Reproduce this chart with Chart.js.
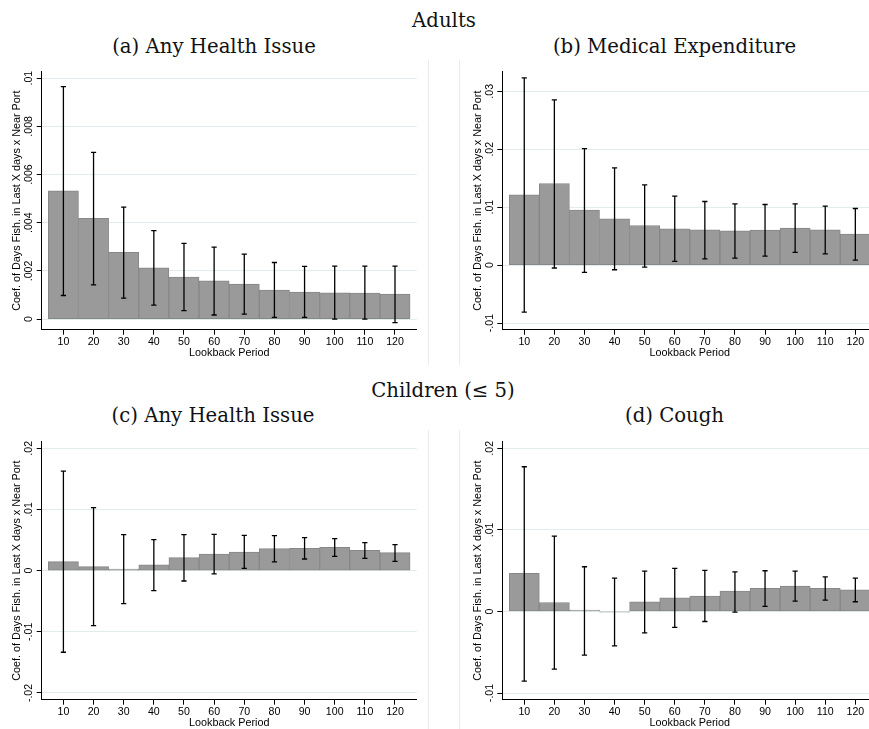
<!DOCTYPE html>
<html>
<head>
<meta charset="utf-8">
<script src="https://cdn.jsdelivr.net/npm/chart.js@4.4.1/dist/chart.umd.min.js"></script>
<style>
  html, body { margin: 0; padding: 0; background: #fff; overflow: hidden; width: 869px; height: 729px; }
  .ttl { position: absolute; font-family: "DejaVu Serif", serif; font-size: 19.7px; line-height: 1; color: #111; white-space: nowrap; transform: translateX(-50%); }
  .frame { position: absolute; width: 1px; background: #ececec; }
  canvas { position: absolute; }
</style>
</head>
<body>
<div class="ttl" style="left:444px; top:11px;">Adults</div>
<div class="ttl" style="left:214px; top:37px;">(a) Any Health Issue</div>
<div class="ttl" style="left:674.5px; top:37px;">(b) Medical Expenditure</div>
<div class="ttl" style="left:443px; top:380.5px;">Children (≤ 5)</div>
<div class="ttl" style="left:213px; top:406px;">(c) Any Health Issue</div>
<div class="ttl" style="left:674.5px; top:406px;">(d) Cough</div>

<div class="frame" style="left:428px; top:60px; height:305px;"></div>
<div class="frame" style="left:459px; top:60px; height:305px;"></div>
<div class="frame" style="left:428px; top:430px; height:299px;"></div>
<div class="frame" style="left:459px; top:430px; height:299px;"></div>

<canvas id="pa" width="434" height="300" style="left:0px; top:60px;"></canvas>
<canvas id="pb" width="450" height="300" style="left:440px; top:60px;"></canvas>
<canvas id="pc" width="434" height="300" style="left:0px; top:430px;"></canvas>
<canvas id="pd" width="450" height="300" style="left:440px; top:430px;"></canvas>

<script>
// Lookback windows (days)
const lookback = [10, 20, 30, 40, 50, 60, 70, 80, 90, 100, 110, 120];

// Adults: any health issue
const adultsAnyCoef = [0.00532, 0.00418, 0.00277, 0.00213, 0.00174, 0.00159, 0.00145, 0.00120, 0.00112, 0.00109, 0.00108, 0.00104];
const adultsAnyLo   = [0.00098, 0.00142, 0.00087, 0.00058, 0.00035, 0.00017, 0.00021, 0.00007, 0.00007, 0.00000, 0.00000, -0.00015];
const adultsAnyHi   = [0.00965, 0.00692, 0.00465, 0.00367, 0.00314, 0.00299, 0.00270, 0.00235, 0.00219, 0.00220, 0.00220, 0.00220];

// Adults: medical expenditure
const adultsMedCoef = [0.01213, 0.01408, 0.00948, 0.00799, 0.00684, 0.00626, 0.00609, 0.00592, 0.00603, 0.00638, 0.00609, 0.00534];
const adultsMedLo   = [-0.00810, -0.00050, -0.00126, -0.00080, -0.00034, 0.00063, 0.00109, 0.00120, 0.00155, 0.00218, 0.00195, 0.00086];
const adultsMedHi   = [0.03230, 0.02850, 0.02010, 0.01678, 0.01385, 0.01190, 0.01098, 0.01057, 0.01046, 0.01057, 0.01017, 0.00977];

// Children (<= 5): any health issue
const childAnyCoef = [0.00147, 0.00065, 0.00027, 0.00093, 0.00212, 0.00272, 0.00305, 0.00359, 0.00365, 0.00381, 0.00332, 0.00294];
const childAnyLo   = [-0.01334, -0.00898, -0.00539, -0.00327, -0.00169, -0.00054, 0.00038, 0.00142, 0.00190, 0.00234, 0.00201, 0.00152];
const childAnyHi   = [0.01628, 0.01029, 0.00588, 0.00506, 0.00588, 0.00593, 0.00577, 0.00572, 0.00539, 0.00523, 0.00457, 0.00425];

// Children (<= 5): cough
const childCoughCoef = [0.00466, 0.00110, 0.00016, -0.00008, 0.00119, 0.00168, 0.00188, 0.00249, 0.00282, 0.00311, 0.00282, 0.00266];
const childCoughLo   = [-0.00854, -0.00707, -0.00535, -0.00421, -0.00262, -0.00196, -0.00123, -0.00008, 0.00061, 0.00127, 0.00139, 0.00119];
const childCoughHi   = [0.01774, 0.00924, 0.00548, 0.00409, 0.00494, 0.00527, 0.00503, 0.00486, 0.00499, 0.00494, 0.00425, 0.00409];

// y-axis tick values per panel
const yTicksA = [0, 0.002, 0.004, 0.006, 0.008, 0.01];
const yTicksB = [-0.01, 0, 0.01, 0.02, 0.03];
const yTicksC = [-0.02, -0.01, 0, 0.01, 0.02];
const yTicksD = [-0.01, 0, 0.01, 0.02];

const yTitle = 'Coef. of Days Fish. in Last X days x Near Port';
const xTitle = 'Lookback Period';

// Stata-style number labels: no leading zero
function fmtTick(v) {
  if (Math.abs(v) < 1e-12) return '0';
  return String(+v.toFixed(4)).replace('0.', '.');
}

// Confidence-interval whiskers drawn through the chart's scales
const errorBars = {
  id: 'errorBars',
  afterDatasetsDraw(chart, args, opts) {
    const xs = chart.scales.x, ys = chart.scales.y, ctx = chart.ctx;
    ctx.save();
    ctx.strokeStyle = '#000';
    ctx.lineWidth = 1.3;
    opts.lo.forEach((lo, i) => {
      const x = xs.getPixelForValue(lookback[i]);
      const y1 = ys.getPixelForValue(lo);
      const y2 = ys.getPixelForValue(opts.hi[i]);
      const c = 2.6;
      ctx.beginPath();
      ctx.moveTo(x, y1); ctx.lineTo(x, y2);
      ctx.moveTo(x - c, y1); ctx.lineTo(x + c, y1);
      ctx.moveTo(x - c, y2); ctx.lineTo(x + c, y2);
      ctx.stroke();
    });
    ctx.restore();
  }
};

const tickFont = { family: '"Liberation Sans", Arial, sans-serif', size: 10.6 };
const titleFont = { family: '"Liberation Sans", Arial, sans-serif', size: 10.8 };

function panel(id, g, coef, lo, hi, yTicks) {
  const el = document.getElementById(id);
  return new Chart(el, {
    type: 'bar',
    data: {
      datasets: [{
        data: lookback.map((x, i) => ({ x: x, y: coef[i] })),
        backgroundColor: '#9a9a9a',
        borderColor: '#878787',
        borderWidth: 1,
        borderSkipped: false,
        barPercentage: 1,
        categoryPercentage: 1
      }]
    },
    options: {
      responsive: false,
      animation: false,
      devicePixelRatio: 1,
      layout: { padding: { left: 0, top: g.padTop, right: g.padRight, bottom: g.padBottom } },
      plugins: {
        legend: { display: false },
        tooltip: { enabled: false },
        errorBars: { lo: lo, hi: hi }
      },
      scales: {
        x: {
          type: 'linear',
          offset: false,
          min: g.xMin,
          max: g.xMax,
          afterBuildTicks: s => { s.ticks = lookback.map(v => ({ value: v })); },
          afterFit: s => { s.height = 29.5; },
          grid: { offset: false, drawOnChartArea: false, tickLength: 5, tickColor: '#000', tickWidth: 1 },
          border: { color: '#000', width: 1 },
          ticks: { font: tickFont, color: '#000', padding: 1, maxRotation: 0, autoSkip: false, callback: v => String(v) },
          title: { display: true, text: xTitle, font: titleFont, color: '#000', padding: 0 }
        },
        y: {
          min: g.yMin,
          max: g.yMax,
          afterBuildTicks: s => { s.ticks = yTicks.map(v => ({ value: v })); },
          afterFit: s => { s.width = g.yAxisW; },
          grid: { color: '#e2ebed', lineWidth: 1, tickColor: '#000', tickLength: 5 },
          border: { color: '#000', width: 1 },
          ticks: { font: tickFont, color: '#000', minRotation: 90, maxRotation: 90, crossAlign: 'center', padding: g.tickPad, autoSkip: false, callback: v => fmtTick(v) },
          title: { display: true, text: yTitle, font: titleFont, color: '#000', padding: { top: g.titlePad, bottom: 0 } }
        }
      }
    },
    plugins: [errorBars]
  });
}

panel('pa', { padTop: 11.7, padRight: 17.3, padBottom: 0.8, yAxisW: 41.7, titlePad: 10.2, tickPad: -2.3,
              xMin: 2.8, xMax: 127.2, yMin: -0.00044, yMax: 0.01027 },
      adultsAnyCoef, adultsAnyLo, adultsAnyHi, yTicksA);
panel('pb', { padTop: 11.7, padRight: 12.7, padBottom: 0.8, yAxisW: 62.3, titlePad: 31.8, tickPad: -1.9,
              xMin: 2.7, xMax: 127.3, yMin: -0.01115, yMax: 0.03338 },
      adultsMedCoef, adultsMedLo, adultsMedHi, yTicksB);
panel('pc', { padTop: 11.7, padRight: 17.3, padBottom: 0.8, yAxisW: 41.7, titlePad: 10.2, tickPad: -1.9,
              xMin: 2.8, xMax: 127.2, yMin: -0.0211, yMax: 0.02108 },
      childAnyCoef, childAnyLo, childAnyHi, yTicksC);
panel('pd', { padTop: 11.7, padRight: 12.7, padBottom: 0.8, yAxisW: 62.3, titlePad: 31.8, tickPad: -1.9,
              xMin: 2.7, xMax: 127.3, yMin: -0.01082, yMax: 0.02081 },
      childCoughCoef, childCoughLo, childCoughHi, yTicksD);
</script>
</body>
</html>
